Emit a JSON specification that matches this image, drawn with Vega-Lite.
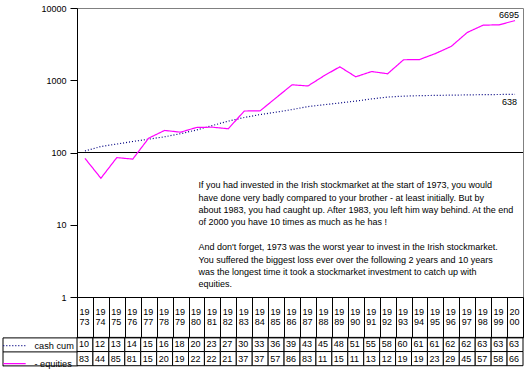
{
  "$schema": "https://vega.github.io/schema/vega-lite/v6.json",
  "background": "white",
  "padding": {"left": 2, "top": 3, "right": 2, "bottom": 2},
  "config": {
    "font": "Liberation Sans",
    "view": {"stroke": null},
    "axis": {"labelFont": "Liberation Sans", "labelColor": "black", "domainColor": "black", "tickColor": "black", "grid": false, "domainWidth": 1, "tickWidth": 1},
    "legend": {"labelFont": "Liberation Sans", "labelColor": "black"}
  },
  "datasets": {
    "d": [
      {"year": 1973, "series": "cash cum", "value": 105},
      {"year": 1974, "series": "cash cum", "value": 121},
      {"year": 1975, "series": "cash cum", "value": 131},
      {"year": 1976, "series": "cash cum", "value": 142},
      {"year": 1977, "series": "cash cum", "value": 153},
      {"year": 1978, "series": "cash cum", "value": 165},
      {"year": 1979, "series": "cash cum", "value": 182},
      {"year": 1980, "series": "cash cum", "value": 205},
      {"year": 1981, "series": "cash cum", "value": 236},
      {"year": 1982, "series": "cash cum", "value": 272},
      {"year": 1983, "series": "cash cum", "value": 305},
      {"year": 1984, "series": "cash cum", "value": 335},
      {"year": 1985, "series": "cash cum", "value": 362},
      {"year": 1986, "series": "cash cum", "value": 393},
      {"year": 1987, "series": "cash cum", "value": 432},
      {"year": 1988, "series": "cash cum", "value": 458},
      {"year": 1989, "series": "cash cum", "value": 485},
      {"year": 1990, "series": "cash cum", "value": 515},
      {"year": 1991, "series": "cash cum", "value": 552},
      {"year": 1992, "series": "cash cum", "value": 585},
      {"year": 1993, "series": "cash cum", "value": 603},
      {"year": 1994, "series": "cash cum", "value": 612},
      {"year": 1995, "series": "cash cum", "value": 617},
      {"year": 1996, "series": "cash cum", "value": 622},
      {"year": 1997, "series": "cash cum", "value": 627},
      {"year": 1998, "series": "cash cum", "value": 632},
      {"year": 1999, "series": "cash cum", "value": 635},
      {"year": 2000, "series": "cash cum", "value": 638},
      {"year": 1973, "series": "- equities", "value": 83},
      {"year": 1974, "series": "- equities", "value": 44},
      {"year": 1975, "series": "- equities", "value": 85},
      {"year": 1976, "series": "- equities", "value": 81},
      {"year": 1977, "series": "- equities", "value": 158},
      {"year": 1978, "series": "- equities", "value": 202},
      {"year": 1979, "series": "- equities", "value": 191},
      {"year": 1980, "series": "- equities", "value": 222},
      {"year": 1981, "series": "- equities", "value": 224},
      {"year": 1982, "series": "- equities", "value": 213},
      {"year": 1983, "series": "- equities", "value": 375},
      {"year": 1984, "series": "- equities", "value": 378},
      {"year": 1985, "series": "- equities", "value": 572},
      {"year": 1986, "series": "- equities", "value": 865},
      {"year": 1987, "series": "- equities", "value": 834},
      {"year": 1988, "series": "- equities", "value": 1150},
      {"year": 1989, "series": "- equities", "value": 1535},
      {"year": 1990, "series": "- equities", "value": 1116},
      {"year": 1991, "series": "- equities", "value": 1320},
      {"year": 1992, "series": "- equities", "value": 1230},
      {"year": 1993, "series": "- equities", "value": 1920},
      {"year": 1994, "series": "- equities", "value": 1935},
      {"year": 1995, "series": "- equities", "value": 2340},
      {"year": 1996, "series": "- equities", "value": 2950},
      {"year": 1997, "series": "- equities", "value": 4580},
      {"year": 1998, "series": "- equities", "value": 5790},
      {"year": 1999, "series": "- equities", "value": 5850},
      {"year": 2000, "series": "- equities", "value": 6695}
    ]
  },
  "data": {"name": "d"},
  "bounds": "flush",
  "spacing": 40.4,
  "resolve": {"scale": {"x": "independent", "y": "independent"}},
  "vconcat": [
    {
      "width": 446,
      "height": 289,
      "view": {"stroke": "#808080"},
      "layer": [
        {
          "data": {"values": [{}]},
          "mark": {"type": "rule", "color": "black", "strokeWidth": 1},
          "encoding": {"y": {"datum": 100, "type": "quantitative"}}
        },
        {
          "mark": {"type": "line", "strokeWidth": 1.2},
          "encoding": {
            "x": {"field": "year", "type": "ordinal", "axis": {"orient": "bottom", "labels": false, "ticks": false, "domain": true, "title": null}},
            "y": {"field": "value", "type": "quantitative", "scale": {"type": "log", "domain": [1, 10000]}, "axis": {"values": [1, 10, 100, 1000, 10000], "format": "d", "title": null, "tickSize": 7, "labelPadding": 4, "labelFontSize": 9}},
            "color": {"field": "series", "type": "nominal", "scale": {"domain": ["cash cum", "- equities"], "range": ["#000080", "#FF00FF"]},
              "legend": {"title": null, "orient": "none", "legendX": -74.5, "legendY": 325.6, "symbolType": "stroke", "symbolSize": 500, "symbolStrokeWidth": 1.2, "labelFontSize": 9.2, "labelOffset": 8, "rowPadding": -8.4, "padding": 0}},
            "strokeDash": {"field": "series", "type": "nominal", "scale": {"domain": ["cash cum", "- equities"], "range": [[1, 2], [1, 0]]},
              "legend": {"title": null, "orient": "none", "legendX": -74.5, "legendY": 325.6, "symbolType": "stroke", "symbolSize": 500, "symbolStrokeWidth": 1.2, "labelFontSize": 9.2, "labelOffset": 8, "rowPadding": -8.4, "padding": 0}}
          }
        },
        {
          "transform": [{"filter": "datum.year == 2000 && datum.series == '- equities'"}],
          "mark": {"type": "text", "align": "right", "baseline": "bottom", "dx": 4, "dy": -1, "fontSize": 9, "color": "black"},
          "encoding": {
            "x": {"field": "year", "type": "ordinal"},
            "y": {"field": "value", "type": "quantitative"},
            "text": {"field": "value", "type": "quantitative", "format": "d"}
          }
        },
        {
          "transform": [{"filter": "datum.year == 2000 && datum.series == 'cash cum'"}],
          "mark": {"type": "text", "align": "right", "baseline": "top", "dx": 2, "dy": 4, "fontSize": 9, "color": "black"},
          "encoding": {
            "x": {"field": "year", "type": "ordinal"},
            "y": {"field": "value", "type": "quantitative"},
            "text": {"field": "value", "type": "quantitative", "format": "d"}
          }
        },
        {
          "data": {"values": [{}]},
          "mark": {"type": "text", "align": "left", "baseline": "top", "fontSize": 9, "lineHeight": 12.4, "dx": 2, "color": "black",
            "text": [
              "If you had invested in the Irish stockmarket at the start of 1973, you would",
              "have done very badly compared to your brother - at least initially. But by",
              "about 1983, you had caught up. After 1983, you left him way behind. At the end",
              "of 2000 you have 10 times as much as he has !"
            ]},
          "encoding": {
            "x": {"datum": 1980, "type": "ordinal"},
            "y": {"datum": 40, "type": "quantitative"}
          }
        },
        {
          "data": {"values": [{}]},
          "mark": {"type": "text", "align": "left", "baseline": "top", "fontSize": 9, "lineHeight": 12.4, "dx": 2, "color": "black",
            "text": [
              "And don't forget, 1973 was the worst year to invest in the Irish stockmarket.",
              "You suffered the biggest loss ever over the following 2 years and 10 years",
              "was the longest time it took a stockmarket investment to catch up with",
              "equities."
            ]},
          "encoding": {
            "x": {"datum": 1980, "type": "ordinal"},
            "y": {"datum": 5.55, "type": "quantitative"}
          }
        }
      ]
    },
    {
      "width": 446,
      "height": 28.3,
      "layer": [
        {
          "mark": {"type": "rect", "fill": "white", "stroke": "black", "strokeWidth": 1},
          "encoding": {
            "x": {"field": "year", "type": "ordinal", "scale": {"paddingInner": 0, "paddingOuter": 0},
              "axis": {"orient": "top", "title": null, "tickBand": "extent", "tickSize": 40.4, "labelExpr": "[substring(datum.label, 0, 2), substring(datum.label, 2, 4)]", "labelAlign": "left", "labelBaseline": "top", "labelOffset": -6, "labelPadding": -10, "labelFontSize": 9, "labelLineHeight": 10.6, "labelOverlap": false, "labelAngle": 0, "domain": true}},
            "y": {"field": "series", "type": "nominal", "scale": {"domain": ["cash cum", "- equities"], "paddingInner": 0, "paddingOuter": 0},
              "axis": {"title": null, "labels": false, "offset": 74.5, "tickSize": -74.5, "tickBand": "extent", "domain": true}}
          }
        },
        {
          "mark": {"type": "text", "align": "left", "baseline": "middle", "dx": 2, "fontSize": 9, "color": "black", "text": {"expr": "substring(toString(datum.value), 0, 2)"}},
          "encoding": {
            "x": {"field": "year", "type": "ordinal", "bandPosition": 0},
            "y": {"field": "series", "type": "nominal"}
          }
        }
      ]
    }
  ]
}
